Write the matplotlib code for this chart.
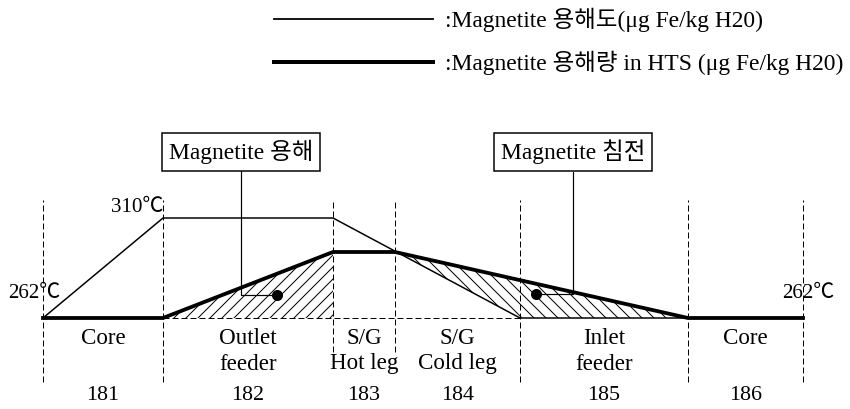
import numpy as np
import matplotlib
matplotlib.use("Agg")
import matplotlib.pyplot as plt
from matplotlib.lines import Line2D

plt.rcParams['font.family'] = ['Liberation Serif', 'Noto Sans CJK KR', 'DejaVu Sans']
plt.rcParams['hatch.linewidth'] = 1.0

# ---- data ----
section_numbers = ['181', '182', '183', '184', '185', '186']
section_top = ['Core', 'Outlet', 'S/G', 'S/G', 'Inlet', 'Core']
section_bottom = ['', 'feeder', 'Hot leg', 'Cold leg', 'feeder', '']
boundaries = [0, 120, 290, 352, 477, 645, 760]          # position along loop

solubility_x = [0, 120, 290, 477, 760]                   # Magnetite 용해도
solubility_y = [0, 100, 100, 0, 0]
hts_x = [0, 120, 290, 352, 645, 760]                     # Magnetite 용해량 in HTS
hts_y = [0, 0, 66, 66, 0, 0]

temp_labels = ['310℃', '262℃', '262℃']

legend_labels = [':Magnetite 용해도(μg Fe/kg H20)',
                 ':Magnetite 용해량 in HTS (μg Fe/kg H20)']

annot_labels = ['Magnetite 용해', 'Magnetite 침전']
annot_x = [234, 493]
annot_y = [23, 24]

# ---- figure ----
fig = plt.figure(figsize=(850 / 72, 409 / 72), dpi=72)
ax = fig.add_axes([0, 0, 1, 1])
ax.set_xlim(-43, 807)
ax.set_ylim(-91, 318)
ax.axis('off')

# dashed section boundaries
short = {2, 3}
ymins = [-34 if i in short else -64 for i in range(len(boundaries))]
ax.vlines(boundaries, ymins, 118, colors='black', linewidth=1.0,
          linestyles=(0, (6, 3)))
# dashed base line
ax.hlines(0, boundaries[1], boundaries[4], colors='black', linewidth=1.0,
          linestyles=(0, (6, 3)))

# hatched regions
xg = np.array(sorted(set(solubility_x) | set(hts_x)), dtype=float)
sol_i = np.interp(xg, solubility_x, solubility_y)
hts_i = np.interp(xg, hts_x, hts_y)
ax.fill_between(xg, 0, hts_i, where=(xg >= boundaries[1]) & (xg <= boundaries[2]),
                facecolor='none', edgecolor='black', hatch='//', linewidth=0)
ax.fill_between(xg, sol_i, hts_i, where=(hts_i >= sol_i) & (xg >= boundaries[3]),
                interpolate=True, facecolor='none', edgecolor='black',
                hatch='\\\\', linewidth=0)

# curves
ax.plot(solubility_x, solubility_y, color='black', lw=1.5, solid_joinstyle='miter')
ax.plot(hts_x, hts_y, color='black', lw=3.8, solid_joinstyle='miter')

# temperature labels
ax.text(boundaries[1], 111, temp_labels[0], ha='right', va='center', fontsize=21)
ax.text(boundaries[0] - 9, 24, temp_labels[1], ha='center', va='center', fontsize=21)
ax.text(boundaries[-1] + 5, 24, temp_labels[2], ha='center', va='center', fontsize=21)

# section labels
mids = [(a + b) / 2 for a, b in zip(boundaries[:-1], boundaries[1:])]
for m, t, b, n in zip(mids, section_top, section_bottom, section_numbers):
    ax.text(m, -20, t, ha='center', va='center', fontsize=23)
    if b:
        ax.text(m, -46, b, ha='center', va='center', fontsize=23)
    ax.text(m, -77, n, ha='center', va='center', fontsize=22)

# annotation boxes with leader lines
box_pos = [(198, 166), (530, 166)]
for lab, x, y, (bx, by) in zip(annot_labels, annot_x, annot_y, box_pos):
    ax.annotate(lab, xy=(x, y), xytext=(bx, by), ha='center', va='center',
                fontsize=23.5,
                bbox=dict(boxstyle='square,pad=0.28', fc='white', ec='black', lw=1.5),
                arrowprops=dict(arrowstyle='-', lw=1.2, color='black',
                                shrinkA=0, shrinkB=0,
                                connectionstyle='angle,angleA=90,angleB=0,rad=0'))
ax.plot(annot_x, annot_y, 'o', color='black', markersize=10)

# legend
handles = [Line2D([], [], color='black', lw=1.8),
           Line2D([], [], color='black', lw=4)]
ax.legend(handles, legend_labels, loc='upper left',
          bbox_to_anchor=(274 / 850, 1 - 8 / 409), bbox_transform=fig.transFigure,
          frameon=False, borderpad=0, borderaxespad=0, fontsize=23.5,
          handlelength=159 / 23.5, handletextpad=12 / 23.5, labelspacing=0.8)

fig.savefig('out.png', dpi=72)
